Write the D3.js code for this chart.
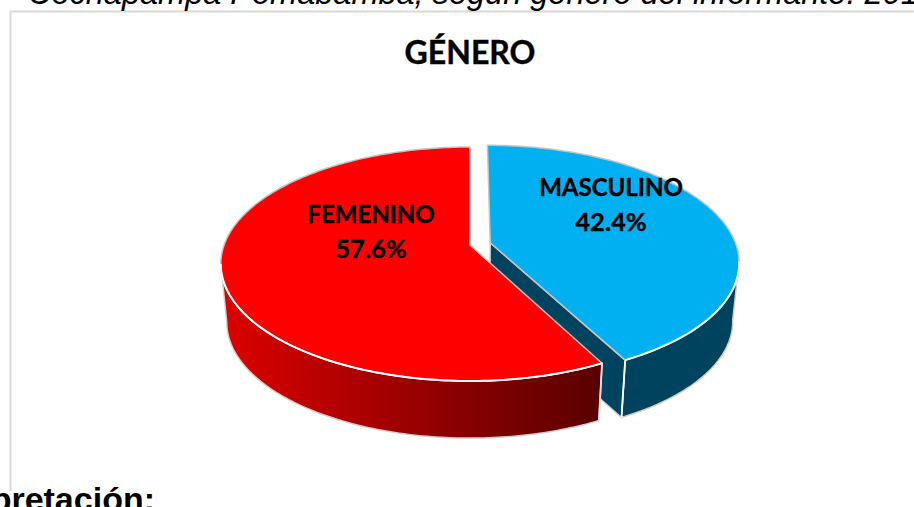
<!DOCTYPE html>
<html>
<head>
<meta charset="utf-8">
<style>
  html, body { margin: 0; padding: 0; background: #fff; overflow: hidden; }
  svg { display: block; }
</style>
<script src="https://cdn.jsdelivr.net/npm/d3@7"></script>
</head>
<body>
<div id="chart"></div>
<script>
// data
var categories = ["MASCULINO", "FEMENINO"];
var percents = [42.4, 57.6];
var chartTitle = "GÉNERO";
var headerText = "Cochapampa Pomabamba, según género del informante. 2017";
var footerText = "Interpretación:";

var width = 914, height = 507;

var svg = d3.select("#chart").append("svg")
  .attr("width", width)
  .attr("height", height);

var defs = svg.append("defs");
var grad = defs.append("linearGradient")
  .attr("id", "redWall")
  .attr("gradientUnits", "userSpaceOnUse")
  .attr("x1", 221).attr("x2", 603).attr("y1", 0).attr("y2", 0);
grad.append("stop").attr("offset", 0).attr("stop-color", "#dc0000");
grad.append("stop").attr("offset", 1).attr("stop-color", "#580000");

// frame of the chart, it runs out of the page on the right and bottom
svg.append("rect")
  .attr("x", 10.5).attr("y", 11.5)
  .attr("width", 940).attr("height", 520)
  .attr("fill", "#fff")
  .attr("stroke", "#d9d9d9")
  .attr("stroke-width", 2);

svg.append("text")
  .attr("x", 28).attr("y", 4)
  .attr("font-family", "Liberation Sans")
  .attr("font-style", "italic")
  .attr("font-size", 32.5)
  .attr("fill", "#000")
  .text(headerText);

svg.append("rect")
  .attr("x", 0).attr("y", 491)
  .attr("width", 156).attr("height", 16)
  .attr("fill", "#fff");

svg.append("text")
  .attr("x", 155).attr("y", 511)
  .attr("text-anchor", "end")
  .attr("font-family", "Liberation Sans")
  .attr("font-weight", "bold")
  .attr("font-size", 34)
  .attr("fill", "#000")
  .text(footerText);

svg.append("text")
  .attr("x", 470).attr("y", 64)
  .attr("text-anchor", "middle")
  .attr("font-family", "Lato")
  .attr("font-weight", "bold")
  .attr("font-size", 32)
  .attr("fill", "#000")
  .attr("stroke", "#000")
  .attr("stroke-width", 0.4)
  .text(chartTitle);

// perspective of the tilted pie: unit circle on the plane -> page
var persp = { cx: 470, cy: 245, a: 245.9, b: 113.9, k: 0.1624 };
var lower = { sx: 0.976, sy: 0.99, dy: 58.5 };   // bottom face of the pie

function project(u, v, bottom) {
  var w = 1 - persp.k * v;
  var x = persp.a * u / w, y = persp.b * v / w;
  if (bottom) return [persp.cx + x * lower.sx, persp.cy + lower.dy + y * lower.sy];
  return [persp.cx + x, persp.cy + y];
}

// angle goes clockwise from the top, same as d3.pie
function rim(t, off, bottom) {
  return project(off[0] + Math.sin(t), off[1] - Math.cos(t), bottom);
}
function arcPoints(t0, t1, off, bottom) {
  var n = Math.max(2, Math.ceil(Math.abs(t1 - t0) * 60));
  return d3.range(n + 1).map(function(i) {
    return rim(t0 + (t1 - t0) * i / n, off, bottom);
  });
}

var line = d3.line();
var pie = d3.pie().sort(null).value(function(d) { return d; });
var arcs = pie(percents);
var blue = arcs[0], red = arcs[1];

// masculino is pulled out of the pie along its bisector
var pull = 0.085;
var mid = (blue.startAngle + blue.endAngle) / 2;
var offBlue = [pull * Math.sin(mid), -pull * Math.cos(mid)];
var offRed = [0, 0];
var tangent = Math.PI * 2 - Math.acos(-persp.k);   // left side of the red wall
var tangentBlue = Math.acos(-persp.k);             // right side of the blue wall

function apex(off, bottom) { return project(off[0], off[1], bottom); }

// --- masculino walls ---
var blueWall = arcPoints(blue.endAngle, tangentBlue, offBlue, false)
  .concat(arcPoints(tangentBlue, blue.endAngle, offBlue, true));
svg.append("path")
  .attr("d", line(blueWall) + "Z")
  .attr("fill", "#00435f")
  .attr("stroke", "#cfcfcf")
  .attr("stroke-width", 1.5);

// inner cut wall, facing the viewer
var cutWall = [apex(offBlue, false), rim(blue.endAngle, offBlue, false),
  rim(blue.endAngle, offBlue, true), apex(offBlue, true)];
svg.append("path")
  .attr("d", line(cutWall) + "Z")
  .attr("fill", "#00435f")
  .attr("stroke", "#cfcfcf")
  .attr("stroke-width", 1.5);

svg.append("path")
  .attr("d", line([rim(blue.endAngle, offBlue, false), rim(blue.endAngle, offBlue, true)]))
  .attr("fill", "none")
  .attr("stroke", "#fff")
  .attr("stroke-width", 1.8);

// --- femenino wall ---
var redWall = arcPoints(red.startAngle, tangent, offRed, false)
  .concat(arcPoints(tangent, red.startAngle, offRed, true));
svg.append("path")
  .attr("d", line(redWall) + "Z")
  .attr("fill", "url(#redWall)")
  .attr("stroke", "#cfcfcf")
  .attr("stroke-width", 1.5);

// --- top faces ---
function topFace(a, off, fill, front0, front1) {
  var pts = [apex(off, false)].concat(arcPoints(a.startAngle, a.endAngle, off, false));
  svg.append("path")
    .attr("d", line(pts) + "Z")
    .attr("fill", fill)
    .attr("stroke", "#c4c4c4")
    .attr("stroke-width", 1.5)
    .attr("stroke-linejoin", "round");
  // the edge in front of the walls is pure white
  svg.append("path")
    .attr("d", line(arcPoints(front0, front1, off, false)))
    .attr("fill", "none")
    .attr("stroke", "#fff")
    .attr("stroke-width", 2);
}
topFace(blue, offBlue, "#00b0f0", tangentBlue, blue.endAngle);
topFace(red, offRed, "#ff0000", red.startAngle, tangent);

// red corner edge down the wall
svg.append("path")
  .attr("d", line([rim(red.startAngle, offRed, false), rim(red.startAngle, offRed, true)]))
  .attr("fill", "none")
  .attr("stroke", "#e4e4e4")
  .attr("stroke-width", 1.8);

// --- labels ---
var labelPos = { MASCULINO: [611, 196], FEMENINO: [371, 223] };
var labels = svg.append("g")
  .attr("font-family", "Lato")
  .attr("font-weight", "bold")
  .attr("fill", "#000")
  .attr("stroke", "#000")
  .attr("stroke-width", 0.4)
  .attr("text-anchor", "middle");

categories.forEach(function(c, i) {
  var p = labelPos[c];
  labels.append("text").attr("x", p[0]).attr("y", p[1])
    .attr("font-size", 24).text(c);
  labels.append("text").attr("x", p[0]).attr("y", p[1] + 34.5)
    .attr("font-size", 25.5).text(d3.format(".1f")(percents[i]) + "%");
});
</script>
</body>
</html>
